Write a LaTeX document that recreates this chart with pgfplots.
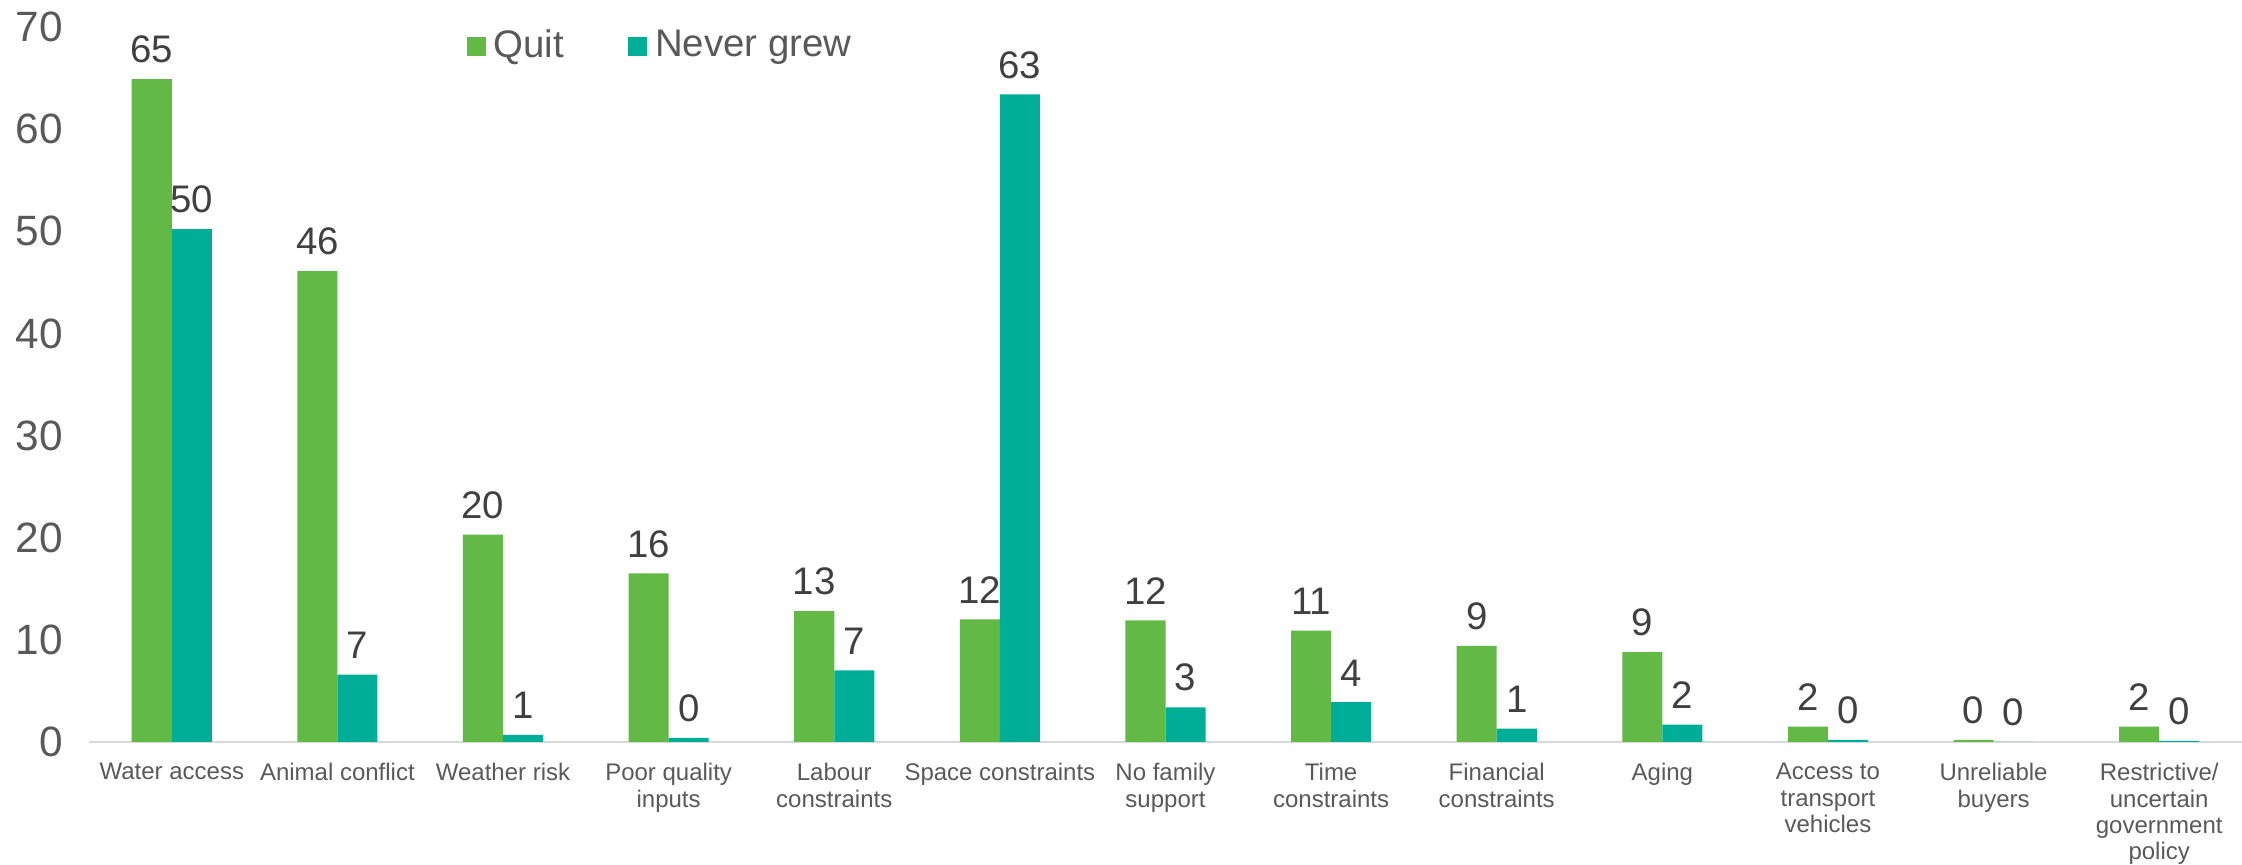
\documentclass[border=0pt]{standalone}
\usepackage{fontspec}
\setmainfont{Liberation Sans}
\usepackage{pgfplots}
\usepackage{pgfplotstable}
\pgfplotsset{compat=1.18}
\definecolor{cquit}{RGB}{98,185,70}
\definecolor{cnever}{RGB}{0,174,151}
\definecolor{tgray}{RGB}{89,89,89}
\definecolor{lgray}{RGB}{217,217,217}
\definecolor{dgray}{RGB}{64,64,64}

\pgfplotstableread{
x y lab
0 64.9 65
1 46.1 46
2 20.3 20
3 16.5 16
4 12.8 13
5 12.0 12
6 11.9 12
7 10.9 11
8 9.4 9
9 8.8 9
10 1.5 2
11 0.2 0
12 1.5 2
}\quitdata

\pgfplotstableread{
x y lab
0 50.2 50
1 6.6 7
2 0.7 1
3 0.4 0
4 7.0 7
5 63.4 63
6 3.4 3
7 3.9 4
8 1.3 1
9 1.7 2
10 0.2 0
11 0.0 0
12 0.1 0
}\neverdata

\begin{document}
\begin{tikzpicture}
\begin{axis}[
  scale only axis,
  width=538.25pt, height=178.75pt,
  xmin=-0.5, xmax=12.5, ymin=0, ymax=70,
  enlargelimits=false, clip=false,
  ybar=0pt, bar width=0.242,
  axis x line*=bottom, axis y line*=left,
  x axis line style={-, draw=lgray, line width=0.7pt},
  y axis line style={draw=none},
  major tick length=0pt,
  ytick={0,10,...,70},
  xtick={0,...,12},
  xticklabels={Water access, Animal conflict, Weather risk, Poor quality\\inputs, Labour\\constraints, Space constraints, No family\\support, Time\\constraints, Financial\\constraints, Aging, Access to\\transport\\vehicles, Unreliable\\buyers, Restrictive/\\uncertain\\government\\policy},
  xticklabel style={font=\fontsize{6}{6.6}\selectfont, text=tgray, align=center, anchor=north, yshift=-1.8pt},
  yticklabel style={font=\fontsize{10.6}{12}\selectfont, text=tgray, xshift=-3pt},
  /pgf/number format/assume math mode=true,
  point meta=explicit symbolic,
  nodes near coords,
  nodes near coords style={font=\fontsize{9.6}{11}\selectfont, text=dgray, anchor=south, inner sep=0pt, yshift=3.8pt},
  legend style={at={(rel axis cs:0.175,0.973)}, anchor=west, draw=none, fill=none,
    font=\fontsize{9.6}{11}\selectfont, text=tgray, inner sep=0pt,
    /tikz/every even column/.append style={column sep=14pt}},
  legend columns=2,
  legend image code/.code={\fill (0pt,-2.375pt) rectangle (4.75pt,2.375pt);},
]
\addplot[fill=cquit, draw=none] table[x=x, y=y, meta=lab] {\quitdata};
\addplot[fill=cnever, draw=none] table[x=x, y=y, meta=lab] {\neverdata};
\legend{Quit, Never grew}
\end{axis}
\pgfresetboundingbox
\path[use as bounding box] (-22.25pt,-30.75pt) rectangle (538.25pt,185.5pt);
\end{tikzpicture}
\end{document}
